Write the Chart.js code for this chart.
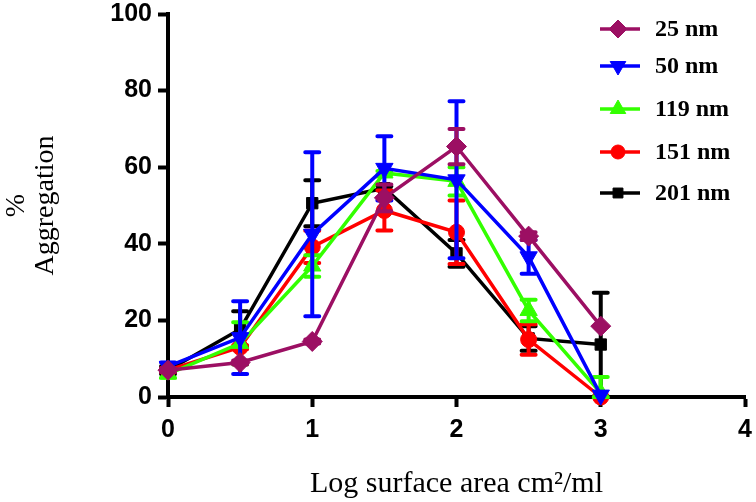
<!DOCTYPE html>
<html>
<head>
<meta charset="utf-8">
<script src="https://cdn.jsdelivr.net/npm/chart.js@4.4.0/dist/chart.umd.min.js"></script>
<style>
  html, body { margin: 0; padding: 0; background: #ffffff; }
  #wrap { width: 756px; height: 502px; position: relative; }
</style>
</head>
<body>
<div id="wrap"><canvas id="c" width="756" height="502"></canvas></div>
<script>
// ---- data ----
const xValues = [0, 0.5, 1, 1.5, 2, 2.5, 3];
const seriesNames = ['25 nm', '50 nm', '119 nm', '151 nm', '201 nm'];

const agg25  = [7, 9, 14.5, 52, 65.4, 42, 18.5];
const err25  = [0.5, 0.5, 0.5, 3.5, 4.6, 1, 0];
const agg50  = [8, 15.5, 42.5, 59.7, 56.7, 36.6, 0.5];
const err50  = [1, 9.5, 21.4, 8.4, 20.5, 4.4, 0];
const agg119 = [6, 14, 34.2, 58.5, 56.3, 22.6, 1];
const err119 = [1, 5.5, 2.8, 0.5, 3.7, 2.8, 4.2];
const agg151 = [7, 13, 39.2, 48.7, 43, 15, 0];
const err151 = [0.5, 0.5, 4.2, 5.2, 8.3, 4, 0];
const agg201 = [7, 17.7, 50.6, 54.5, 37.5, 15.3, 13.7];
const err201 = [1, 4.7, 6, 0.5, 3.5, 3.2, 13.5];

const xTicks = [0, 1, 2, 3, 4];
const yTicks = [0, 20, 40, 60, 80, 100];

const colors = ['#9c0f63', '#0000ff', '#33ff00', '#ff0000', '#000000'];
const styles = ['rectRot', 'triangle', 'triangle', 'circle', 'rect'];
const rotations = [0, 180, 0, 0, 0];
const radii = [10, 10, 10, 8, 8];

const allValues = [agg25, agg50, agg119, agg151, agg201];
const allErrors = [err25, err50, err119, err151, err201];

const datasets = seriesNames.map((name, i) => ({
  label: name,
  data: xValues.map((x, j) => ({ x: x, y: allValues[i][j] })),
  errors: allErrors[i],
  borderColor: colors[i],
  backgroundColor: colors[i],
  pointBackgroundColor: colors[i],
  pointBorderColor: colors[i],
  pointStyle: styles[i],
  pointRotation: rotations[i],
  pointRadius: radii[i],
  pointHoverRadius: radii[i],
  borderWidth: 3.5,
  pointBorderWidth: 1,
  tension: 0,
  clip: false
}));

const errorBarPlugin = {
  id: 'errorBars',
  beforeDatasetDraw(chart, args) {
    const ds = chart.data.datasets[args.index];
    const xs = chart.scales.x, ys = chart.scales.y;
    const ctx = chart.ctx;
    ctx.save();
    ctx.strokeStyle = ds.borderColor;
    ctx.lineWidth = 4;
    ctx.lineCap = 'round';
    ds.data.forEach((p, j) => {
      const e = ds.errors[j];
      if (!e) return;
      const px = xs.getPixelForValue(p.x);
      const yt = ys.getPixelForValue(p.y + e);
      const yb = ys.getPixelForValue(Math.max(0, p.y - e));
      ctx.beginPath();
      ctx.moveTo(px, yt); ctx.lineTo(px, yb);
      ctx.moveTo(px - 7, yt); ctx.lineTo(px + 7, yt);
      ctx.moveTo(px - 7, yb); ctx.lineTo(px + 7, yb);
      ctx.stroke();
    });
    ctx.restore();
  }
};

function drawMarker(ctx, style, rot, r, x, y, color) {
  if (Chart.helpers && Chart.helpers.drawPoint) {
    ctx.fillStyle = color; ctx.strokeStyle = color; ctx.lineWidth = 1;
    Chart.helpers.drawPoint(ctx, { pointStyle: style, radius: r, rotation: rot, borderWidth: 1 }, x, y);
    return;
  }
  ctx.fillStyle = color;
  ctx.beginPath();
  ctx.arc(x, y, r, 0, Math.PI * 2);
  ctx.fill();
}

const legendPlugin = {
  id: 'sideLegend',
  afterDraw(chart) {
    const ctx = chart.ctx;
    const ys = [29, 66, 109, 152, 193];
    ctx.save();
    chart.data.datasets.forEach((ds, i) => {
      const y = ys[i];
      ctx.strokeStyle = ds.borderColor;
      ctx.lineWidth = 3.5;
      ctx.beginPath();
      ctx.moveTo(600, y); ctx.lineTo(640, y);
      ctx.stroke();
      drawMarker(ctx, ds.pointStyle, ds.pointRotation, ds.pointRadius - 1, 618, y, ds.borderColor);
      ctx.fillStyle = '#000';
      ctx.font = 'bold 24px "Liberation Serif", "Times New Roman", serif';
      ctx.textBaseline = 'middle';
      ctx.textAlign = 'left';
      ctx.fillText(ds.label, 655, y + 1);
    });
    ctx.restore();
  }
};

new Chart(document.getElementById('c'), {
  type: 'line',
  data: { datasets: datasets },
  plugins: [errorBarPlugin, legendPlugin],
  options: {
    responsive: false,
    animation: false,
    events: [],
    layout: { padding: { top: 14, right: 10, left: 0, bottom: 0 } },
    plugins: {
      legend: { display: false },
      tooltip: { enabled: false }
    },
    scales: {
      x: {
        type: 'linear',
        min: 0, max: 4,
        afterBuildTicks: (s) => { s.ticks = xTicks.map(v => ({ value: v })); },
        afterFit: (s) => { s.height = 105; s.paddingLeft = 0; s.paddingRight = 0; },
        ticks: {
          color: '#000',
          padding: 8,
          font: { family: '"Liberation Sans", Arial, sans-serif', size: 25, weight: 'bold' }
        },
        grid: { display: true, drawOnChartArea: false, drawTicks: true, tickLength: 10, tickWidth: 4, color: '#000' },
        border: { display: true, width: 4, color: '#000' },
        title: {
          display: true,
          text: 'Log surface area cm²/ml',
          color: '#000',
          padding: { top: 18, bottom: 0 },
          font: { family: '"Liberation Serif", "Times New Roman", serif', size: 30, weight: 'normal' }
        }
      },
      y: {
        type: 'linear',
        min: 0, max: 100,
        afterBuildTicks: (s) => { s.ticks = yTicks.map(v => ({ value: v })); },
        afterFit: (s) => { s.width = 168; s.paddingTop = 0; s.paddingBottom = 0; },
        ticks: {
          color: '#000',
          padding: 6,
          font: { family: '"Liberation Sans", Arial, sans-serif', size: 25, weight: 'bold' }
        },
        grid: { display: true, drawOnChartArea: false, drawTicks: true, tickLength: 10, tickWidth: 4, color: '#000' },
        border: { display: true, width: 4, color: '#000' },
        title: {
          display: true,
          text: ['%', 'Aggregation'],
          color: '#000',
          padding: { top: 2, bottom: 40 },
          font: { family: '"Liberation Serif", "Times New Roman", serif', size: 28, weight: 'normal', lineHeight: 1.05 }
        }
      }
    }
  }
});
</script>
</body>
</html>
